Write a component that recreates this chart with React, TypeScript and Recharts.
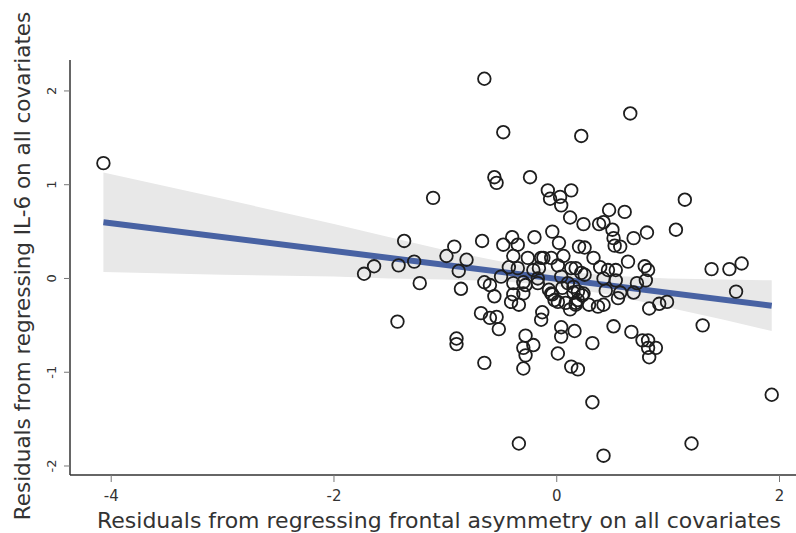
import {
  Area,
  ComposedChart,
  Label,
  Line,
  Scatter,
  XAxis,
  YAxis,
} from "recharts";

// residuals (x: frontal asymmetry, y: IL-6)
const residX = [
  -4.07, -0.65, -0.48, 0.22, 0.66, -1.11, -0.56, -0.54, -0.24, -0.08, -0.06, 0.03, 0.04, 0.13,
  1.15, 1.07, 0.47, 0.61, 0.12, 0.24, 0.38, 0.42, 0.5, 0.51, 0.57, 0.52, 0.69, 0.81, -1.37,
  -0.92, -0.99, -0.81, -0.67, -0.48, -0.4, -0.35, -0.2, -0.04, 0.02, -0.39, -0.26, -0.14, -0.12,
  -0.05, 0.06, 0.2, 0.25, 0.33, 0.64, 0.79, 1.39, 1.55, 1.66, -1.28,
  -1.73, -1.64, -1.42, -1.23, -0.88, -0.86, -0.65, -0.6, -0.56, -0.43, -0.35, -0.5, -0.39, -0.3,
  -0.39, -0.3, -0.21, -0.16, -0.17, 0.01, 0.13, 0.17, 0.22, 0.25, 0.39, 0.46, 0.53, -0.28, -0.17,
  -0.07, -0.04, 0.01, 0.04, 0.1, 0.15, 0.19, 0.17, 0.23, 0.29, 0.37, 0.42, 0.44, 0.53, 0.57, 0.55,
  0.69, 0.72, 0.8, 0.82, 0.42, 0.05, 1.61,
  -0.68, -0.6, -0.54, -0.52, -0.41, -0.34, -0.13, -0.14, -1.43, -0.9, -0.9, -0.65, -0.28, -0.21,
  -0.3, -0.28, -0.3, -0.05, -0.02, 0.08, 0.12, 0.17, 0.19, 0.15, 0.24, 0.04, 0.04, 0.16, 0.01,
  0.13, 0.19, 0.32, 0.32, 0.51, 0.67, 0.77, 0.82, 0.89, 0.82, 0.83, 0.83, 0.92, 0.99, 1.31, 1.93,
  -0.34, 0.42, 1.21,
];
const residY = [
  1.23, 2.13, 1.56, 1.52, 1.76, 0.86, 1.08, 1.02, 1.08, 0.94, 0.85, 0.87, 0.78, 0.94,
  0.84, 0.52, 0.73, 0.71, 0.65, 0.58, 0.58, 0.6, 0.52, 0.43, 0.34, 0.35, 0.43, 0.49, 0.4,
  0.34, 0.24, 0.2, 0.4, 0.36, 0.44, 0.36, 0.44, 0.5, 0.38, 0.24, 0.22, 0.22, 0.22,
  0.22, 0.24, 0.34, 0.33, 0.22, 0.18, 0.13, 0.1, 0.1, 0.16, 0.18,
  0.05, 0.13, 0.14, -0.05, 0.08, -0.11, -0.04, -0.07, -0.19, 0.12, 0.11, 0.02, -0.05, -0.04,
  -0.17, -0.16, 0.09, 0.11, -0.05, 0.14, 0.11, 0.11, 0.06, 0.04, 0.12, 0.09, 0.09, -0.07, 0.0,
  -0.12, -0.17, -0.25, 0.02, -0.05, -0.09, -0.14, -0.26, -0.18, -0.28, -0.3, -0.28, -0.13, -0.02, -0.15, -0.21,
  -0.15, -0.05, -0.02, 0.09, 0.0, -0.1, -0.14,
  -0.37, -0.42, -0.41, -0.54, -0.25, -0.28, -0.36, -0.44, -0.46, -0.64, -0.7, -0.9, -0.61, -0.71,
  -0.74, -0.82, -0.96, -0.16, -0.23, -0.26, -0.33, -0.28, -0.23, -0.15, -0.16, -0.52, -0.62, -0.56, -0.8,
  -0.94, -0.97, -0.69, -1.32, -0.51, -0.57, -0.66, -0.66, -0.74, -0.74, -0.84, -0.32, -0.27, -0.25, -0.5, -1.24,
  -1.76, -1.89, -1.76,
];

// 95% CI band edges
const bandX = [-4.07, -3, -2, -1.5, -1, -0.5, 0, 0.5, 1, 1.5, 1.93];
const bandLow = [0.07, 0.04, 0.02, 0.0, -0.01, -0.03, -0.08, -0.18, -0.31, -0.44, -0.56];
const bandHigh = [1.13, 0.85, 0.58, 0.44, 0.3, 0.18, 0.08, 0.03, 0.0, -0.01, -0.02];

// fitted line end points
const fitX = [-4.07, 1.93];
const fitY = [0.6, -0.29];

const xTicks = [-4, -2, 0, 2];
const yTicks = [-2, -1, 0, 1, 2];

const points = residX.map((x, i) => ({ x, y: residY[i] }));
const band = bandX.map((x, i) => ({ x, range: [bandLow[i], bandHigh[i]] }));
const fit = fitX.map((x, i) => ({ x, y: fitY[i] }));

const font = "'DejaVu Sans', Verdana, sans-serif";
const ink = "#333";

const Hollow = (p: any) => (
  <circle cx={p.cx} cy={p.cy} r={6.3} fill="none" stroke="#1e1e1e" strokeWidth={1.8} />
);

const YTick = (p: any) => (
  <text
    transform={`translate(56,${p.y}) rotate(-90)`}
    textAnchor="middle"
    fontFamily={font}
    fontSize={13}
    fill={ink}
  >
    {p.payload.value}
  </text>
);

export default function App() {
  return (
    <div style={{ position: "absolute", left: 0, top: 0, background: "#fff" }}>
      <ComposedChart
        width={796}
        height={533}
        margin={{ top: 60, right: 0, left: 0, bottom: 0 }}
      >
        <XAxis
          type="number"
          dataKey="x"
          domain={[-4.37, 2.148]}
          ticks={xTicks}
          allowDataOverflow
          height={58}
          tickSize={7}
          tickMargin={8}
          stroke={ink}
          strokeWidth={1.5}
          tick={{ fill: ink, fontSize: 15, fontFamily: font }}
          tickLine={{ stroke: "#777", strokeWidth: 1 }}
        >
          <Label
            content={() => (
              <text x={439} y={528} textAnchor="middle" fontFamily={font} fontSize={22} fill={ink}>
                Residuals from regressing frontal asymmetry on all covariates
              </text>
            )}
          />
        </XAxis>
        <YAxis
          type="number"
          dataKey="y"
          domain={[-2.096, 2.33]}
          ticks={yTicks}
          allowDataOverflow
          width={70}
          tickSize={6}
          tickMargin={2}
          stroke={ink}
          strokeWidth={1.5}
          tick={<YTick />}
          tickLine={{ stroke: "#777", strokeWidth: 1 }}
        >
          <Label
            content={() => (
              <text
                transform="translate(30,266) rotate(-90)"
                textAnchor="middle"
                fontFamily={font}
                fontSize={21.5}
                fill={ink}
              >
                Residuals from regressing IL-6 on all covariates
              </text>
            )}
          />
        </YAxis>
        <Area
          data={band}
          dataKey="range"
          type="linear"
          fill="#e8e8e8"
          fillOpacity={1}
          stroke="none"
          isAnimationActive={false}
        />
        <Scatter data={points} dataKey="y" shape={<Hollow />} isAnimationActive={false} />
        <Line
          data={fit}
          dataKey="y"
          type="linear"
          stroke="#4862a3"
          strokeWidth={6}
          dot={false}
          isAnimationActive={false}
        />
      </ComposedChart>
    </div>
  );
}
